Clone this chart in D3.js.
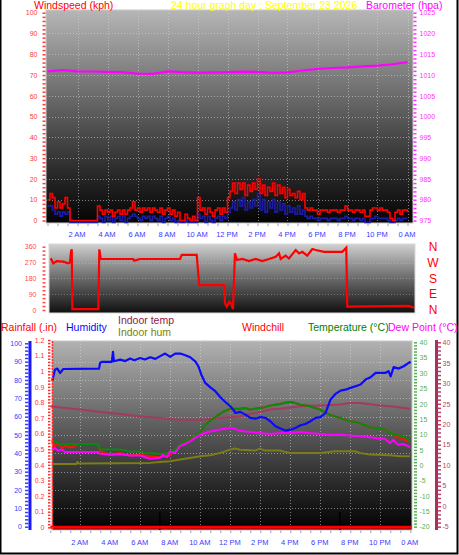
<!DOCTYPE html>
<html><head><meta charset="utf-8">
<script src="https://cdn.jsdelivr.net/npm/d3@7"></script>
<style>body{margin:0;background:#fff;} svg{display:block;}</style>
</head><body><svg id="c" width="459" height="555"></svg>
<script>
// ---------- DATA ----------
const hourTicks = [2,4,6,8,10,12,14,16,18,20,22,24];
const hourLabels = ["2 AM","4 AM","6 AM","8 AM","10 AM","12 PM","2 PM","4 PM","6 PM","8 PM","10 PM","0 AM"];
const dirLabels = ["N","W","S","E","N"];
const dirLabelDeg = [360,270,180,90,0];

// wind speed (kph), one sample every 10 minutes from 0:00
const windGust = [10,13,11,6,9,6,8,11,6,0, 0,0,0,0,0,0,0,0,0,0,
  7,5,3,5,4,5,2,4,5,3, 5,3,5,6,9,5,6,4,6,5, 6,4,6,5,4,6,3,5,6,3,
  5,2,4,0,0,3,1,0,2,0, 11,5,6,3,6,4,2,5,6,3, 6,4,11,14,18,13,18,15,18,12,
  17,14,18,15,20,13,17,12,16,14, 18,12,17,13,16,11,15,12,13,11,
  14,10,13,6,5,6,5,5,3,5, 5,5,4,5,5,5,4,5,5,7, 5,5,4,5,5,4,5,2,2,5,
  6,6,5,6,5,5,4,1,0,4, 5,3,5,5,4];
const windAvg = [8,8,6,4,5,3,5,4,5,0, 0,0,0,0,0,0,0,0,0,0,
  3,2,0,3,1,3,0,2,3,1, 3,0,2,3,4,3,2,1,3,2, 3,1,3,2,1,3,0,2,3,1,
  2,0,1,0,0,1,0,0,0,0, 4,2,3,0,3,1,0,2,3,1, 3,2,5,7,10,6,11,8,12,6,
  10,7,11,8,14,6,11,5,10,7, 11,5,10,6,9,4,8,5,7,4,
  8,4,6,3,2,3,2,2,1,2, 2,2,1,2,2,2,1,2,2,3, 2,2,1,2,2,1,2,0,0,2,
  2,3,2,2,2,2,1,0,0,1, 2,1,2,2,2];
// barometer (hpa), hourly
const baroVals = [1010.9,1011.2,1010.9,1010.85,1010.75,1010.7,1010.35,1010.3,1010.9,1010.7,
  1010.6,1010.65,1010.7,1010.8,1010.75,1010.55,1010.65,1011.1,1011.5,1011.7,
  1011.85,1012.1,1012.25,1012.6,1013.1];
// wind direction (degrees)
const dirHours = [0.05,0.22,0.45,0.87,1.22,1.33,1.40,1.45,1.49,3.22,3.29,3.38,5.55,5.6,5.8,6.0,8.67,8.78,9.78,9.95,
  11.6,11.67,11.78,11.95,12.07,12.2,12.33,12.47,12.82,13.27,13.71,14.15,14.6,15.05,15.27,15.38,15.71,15.93,
  16.38,16.6,16.82,17.15,17.49,17.71,18.27,19.49,19.75,19.82,23.93,24.27];
const dirVals = [294,265,278,275,265,270,331,345,5,5,345,290,290,280,285,290,290,313,313,142,
  142,38,19,47,38,5,322,284,290,278,290,278,290,303,322,290,309,293,
  341,322,331,309,347,341,331,331,354,19,23,13];

// lower panel
const humHours = [0.13,0.31,0.47,0.65,0.87,3.25,3.32,3.43,4.10,4.18,4.24,4.66,5.0,5.32,5.6,5.99,6.3,6.66,7.0,7.33,7.66,7.99,8.33,8.66,9.0,9.33,9.66,9.87,10.07,10.33,10.67,11.0,11.34,11.67,12.0,12.2,12.34,12.67,13.01,13.34,13.67,14.01,14.34,14.67,15.01,15.34,15.67,16.01,16.34,16.68,17.01,17.34,17.68,18.01,18.35,18.68,19.01,19.35,19.68,20.01,20.35,20.68,21.02,21.35,21.69,22.02,22.35,22.55,22.69,22.89,23.23,23.56,23.89,24.02];
const humVals = [79.6,85.6,86.2,83.8,86,86.2,89.3,89.9,89.9,95.3,90.2,91.1,90.3,91.7,90.8,92,91.2,92.4,91.5,93,94.4,92.6,94.4,94.4,93.5,92.4,90.2,87.5,82.9,78.4,76,73.9,70.6,68,65.7,63.8,62,62.6,61.1,59.3,58.9,59.8,59.3,57.5,54.8,53.5,52.4,52.9,53.8,55.3,56,57.5,59.3,59.7,62,69.3,72.4,74.2,74.7,75.7,76.6,77.5,80.2,81.5,83.9,83.9,83.9,84.8,82,87,86.2,87.5,89.3,89.9];
const inTempHours = [0,0.65,1.98,3.31,4.65,5.98,7.31,8.65,9.98,11.31,12.31,12.65,13.31,13.98,14.65,15.31,15.98,16.65,17.98,19.31,19.98,20.65,21.31,21.98,22.65,23.31,23.98];
const inTempVals = [24.4,24.1,23.6,23.0,22.5,21.9,21.5,21.1,21.1,21.5,21.8,21.9,22.5,23.0,23.6,23.8,24.1,24.4,24.6,24.8,25.2,25.2,24.9,24.6,24.4,24.1,23.7];
const inHumHours = [0.11,1.75,1.8,1.9,6.65,7.31,7.98,8.65,9.31,9.98,10.65,11.31,11.98,12.31,12.65,13.65,13.98,14.31,15.31,15.65,15.98,17.98,18.98,20.31,20.65,21.31,22.65,23.31,23.98];
const inHumVals = [34.2,34.2,35.3,34.4,34.8,35.3,35.7,36.6,37.5,38.4,38.9,40.2,42.0,42.6,42,41.5,42.6,41.5,41.5,40.8,40.2,40.2,41.1,41.1,40.2,39.3,38.9,38.4,38.4];
const tempHours = [0.11,0.31,0.65,3.18,3.32,4.65,5.31,5.98,6.31,7.31,7.98,8.31,8.65,8.98,9.31,9.65,9.98,10.31,10.65,10.98,11.31,11.65,11.98,12.31,12.65,12.98,13.31,13.65,13.98,14.31,14.65,14.98,15.31,15.65,15.98,16.31,16.65,16.98,17.31,17.65,17.98,18.31,18.65,18.98,19.31,19.65,19.98,20.31,20.65,20.98,21.31,21.65,21.98,22.31,22.65,22.98,23.31,23.65,23.98];
const tempVals = [8.3,7.8,6.9,6.9,5.1,5.1,4.5,4.5,4.0,3.7,4.0,5.1,6.7,7.8,8.9,9.4,10.8,13.0,14.5,15.6,16.7,17.7,18.4,18.4,18.4,18.6,18.1,18.4,18.6,18.9,19.4,19.7,19.9,20.3,20.6,20.3,19.7,19.5,19.2,18.6,18.1,17.3,16.4,15.9,15.4,14.8,14.3,14.1,13.7,13.0,12.3,12.1,11.9,11.6,10.5,9.9,9.7,9.1,8.0];
const chillHours = [0.11,0.31,0.5,0.78,1.05,1.31,1.65,1.9,3.18,3.32,3.98,4.65,5.31,5.98,6.65,7.31,7.98,8.31,8.65,8.98,9.31,9.65,9.98,10.31,10.65,10.98,11.31,11.65,11.98,12.31,12.65,12.98,13.31,13.65,13.98,14.31,14.65,14.98,15.31,15.65,15.98,16.31,16.65,16.98,17.31,17.65,17.98,18.31,18.65,18.98,19.31,19.65,19.98,20.31,20.65,20.98,21.31,21.65,21.98,22.31,22.65,22.98,23.31,23.65,23.98];
const chillVals = [7.8,6.2,7.2,5.6,6.5,5.8,6.2,6.9,6.9,4.5,3.4,4.0,3.2,3.4,2.9,2.6,3.2,4.8,6.7,7.8,8.9,9.4,10.8,13.0,14.5,15.6,16.7,17.7,18.2,18.2,18.3,18.6,18.1,18.4,18.6,18.9,19.4,19.7,19.9,20.3,20.6,20.3,19.7,19.5,19.2,18.6,18.1,17.3,16.4,15.9,15.4,14.8,14.3,14.1,13.7,13.0,12.3,12.1,11.9,11.6,10.5,9.6,8.9,8.3,7.6];
const dewHours = [0.11,0.31,0.51,0.78,0.98,3.18,3.32,3.98,4.65,5.31,5.98,6.31,6.65,7.31,7.51,7.78,7.98,8.31,8.65,8.98,9.31,9.65,9.98,10.31,10.65,10.98,11.31,11.65,11.98,12.31,12.65,13.31,13.98,14.65,15.31,15.98,16.65,17.31,17.98,18.65,19.31,19.98,20.65,21.31,21.98,22.31,22.65,22.85,23.18,23.51,23.85,23.98];
const dewVals = [5.1,5.6,4.7,5.1,4.3,4.3,3.7,3.4,3.6,3.2,3.2,2.6,2.1,2.4,3.4,2.6,4.5,4.0,6.2,6.9,7.8,8.9,9.9,10.5,11.0,11.2,11.6,11.9,12.1,11.9,11.2,10.8,10.5,10.2,10.5,10.5,10.8,10.5,10.2,9.9,9.9,9.7,9.4,9.1,8.6,8.6,7.2,8.3,6.7,6.9,6.2,5.8];
const rainHours = [0,4,8,12,16,20,24.05];
const rainVals = [0,0,0,0,0,0,0];
const sunMarks = [7.3,19.3];

// ---------- DRAWING ----------
const FONT = "'Liberation Sans', Arial, sans-serif";
const svg = d3.select("#c").attr("font-family", FONT);
const defs = svg.append("defs");
function grad(id, stops){
  const g = defs.append("linearGradient").attr("id", id).attr("x1",0).attr("y1",0).attr("x2",0).attr("y2",1);
  stops.forEach(s => g.append("stop").attr("offset", s[0]).attr("stop-color", s[1]));
}
grad("g1", [[0,"#b6b6b6"],[0.45,"#626262"],[0.75,"#2c2c2c"],[1,"#030303"]]);
grad("g2", [[0,"#d0d0d0"],[0.5,"#6a6a6a"],[1,"#101010"]]);
grad("g3", [[0,"#b2b2b2"],[0.45,"#5e5e5e"],[0.75,"#2a2a2a"],[1,"#020202"]]);

// outer frame
svg.append("path").attr("d","M0.5,0 V553.5 H457.5 V0").attr("fill","none").attr("stroke","#000").attr("stroke-width",2);

function styleAxis(g, color, size){
  g.attr("font-family", FONT);
  g.select(".domain").remove();
  g.selectAll(".tick line").attr("stroke", color).attr("stroke-width", 1.5);
  g.selectAll(".tick text").attr("fill", color).attr("font-size", size);
}
function grid(g, x, y, xs, ys, x0, x1, y0, y1){
  g.selectAll(null).data(xs).join("line")
    .attr("x1", d=>Math.round(x(d))+0.5).attr("x2", d=>Math.round(x(d))+0.5).attr("y1", y0).attr("y2", y1)
    .attr("stroke","#d8d8d8").attr("stroke-opacity",0.55).attr("stroke-dasharray","1,2");
  g.selectAll(null).data(ys).join("line")
    .attr("y1", d=>Math.round(y(d))+0.5).attr("y2", d=>Math.round(y(d))+0.5).attr("x1", x0).attr("x2", x1)
    .attr("stroke","#d8d8d8").attr("stroke-opacity",0.55).attr("stroke-dasharray","1,2");
}
function xAxes(x, tickY, labelY){
  const t = svg.append("g").attr("transform",`translate(0,${tickY})`)
    .call(d3.axisBottom(x).tickValues(d3.range(0, 24.01, 2/3)).tickFormat("").tickSize(2.5));
  t.select(".domain").remove();
  t.selectAll(".tick line").attr("stroke","#9a9ac8");
  const l = svg.append("g").attr("transform",`translate(-1,${labelY})`)
    .call(d3.axisBottom(x).tickValues(hourTicks).tickFormat((d,i)=>hourLabels[i]).tickSize(0).tickPadding(0));
  l.select(".domain").remove();
  l.attr("font-family", FONT);
  l.selectAll("text").attr("fill","#3a3aff").attr("font-size",7.5);
}

// ===== Panel 1: wind speed + barometer =====
const x1 = d3.scaleLinear().domain([0,24]).range([47.5,407.5]);
const yW = d3.scaleLinear().domain([0,100]).range([220.5,12.7]);
const yB = d3.scaleLinear().domain([975,1025]).range([220.5,12.7]);
svg.append("rect").attr("x",46).attr("y",10).attr("width",367).attr("height",213).attr("fill","url(#g1)")
  .attr("stroke","#c8c8c8").attr("stroke-width",1);
grid(svg.append("g"), x1, yW, [2,4,6,8,10,12,14,16,18,20,22,24], d3.range(10,100,10), 46, 413, 10, 223);

const windT = windGust.map((d,i)=>i/6);
const lineStep = d3.line().curve(d3.curveStepAfter);
svg.append("path").attr("transform","translate(0,2)")
  .attr("d", lineStep(windAvg.map((v,i)=>[x1(windT[i]), yW(v)])))
  .attr("fill","none").attr("stroke","#1c1ca8").attr("stroke-width",1.6);
svg.append("path")
  .attr("d", lineStep(windGust.map((v,i)=>[x1(windT[i]), yW(v)])))
  .attr("fill","none").attr("stroke","#ff0000").attr("stroke-width",1.6);
svg.append("path")
  .attr("d", d3.line()(baroVals.map((v,i)=>[x1(i), yB(v)])))
  .attr("fill","none").attr("stroke","#ff00ff").attr("stroke-width",2.2);

styleAxis(svg.append("g").attr("transform","translate(45.5,0)")
  .call(d3.axisLeft(yW).tickValues(d3.range(0,101,2)).tickFormat(d=>d%10===0?d:"").tickSize(3).tickPadding(5)), "#ff3a3a", 7);
styleAxis(svg.append("g").attr("transform","translate(413.5,0)")
  .call(d3.axisRight(yB).tickValues(d3.range(975,1025.1,1)).tickFormat(d=>d%5===0?d:"").tickSize(3).tickPadding(3)), "#ff30ff", 7);
xAxes(x1, 223.5, 232);

svg.append("text").attr("x",34).attr("y",8.5).attr("font-size",10.5).attr("fill","#ff0000").text("Windspeed (kph)");
svg.append("text").attr("x",171).attr("y",8.5).attr("font-size",10.5).attr("fill","#ffff00").text("24 hour graph day : September 23 2026");
svg.append("text").attr("x",366).attr("y",8.5).attr("font-size",10.5).attr("fill","#ff00ff").text("Barometer (hpa)");

// ===== Panel 2: wind direction =====
const x2 = d3.scaleLinear().domain([0,24]).range([50,410]);
const yD = d3.scaleLinear().domain([0,360]).range([310,246.7]);
svg.append("rect").attr("x",49).attr("y",244).attr("width",366).attr("height",69).attr("fill","url(#g2)")
  .attr("stroke","#d8d8d8").attr("stroke-width",1);
svg.append("g").selectAll("line").data([90,180,270]).join("line")
  .attr("x1",49).attr("x2",415).attr("y1",d=>Math.round(yD(d))+0.5).attr("y2",d=>Math.round(yD(d))+0.5)
  .attr("stroke","#d8d8d8").attr("stroke-opacity",0.35).attr("stroke-dasharray","1,2");
svg.append("path")
  .attr("d", d3.line()(dirVals.map((v,i)=>[x2(dirHours[i]), yD(v)])))
  .attr("fill","none").attr("stroke","#ff0000").attr("stroke-width",2.2);
styleAxis(svg.append("g").attr("transform","translate(45.5,0)")
  .call(d3.axisLeft(yD).tickValues(d3.range(0,361,22.5)).tickFormat(d=>d%90===0?d:"").tickSize(3).tickPadding(6)), "#ff4a4a", 7);
svg.append("g").selectAll("text").data(dirLabels).join("text")
  .attr("x",433).attr("y",(d,i)=>yD(dirLabelDeg[i])).attr("dy","0.36em").attr("text-anchor","middle")
  .attr("font-size",12).attr("fill","#ff0000").text(d=>d);

// ===== Panel 3 =====
const x3 = d3.scaleLinear().domain([0,24]).range([50.3,410.3]);
const yH = d3.scaleLinear().domain([0,100]).range([526.7,343.3]);
const yR = d3.scaleLinear().domain([0,1.2]).range([527.3,340]);
const yT = d3.scaleLinear().domain([-20,40]).range([526.7,342.3]);
const yI = d3.scaleLinear().domain([-5,40]).range([526.7,342.3]);
svg.append("rect").attr("x",52).attr("y",341).attr("width",360).attr("height",189).attr("fill","url(#g3)")
  .attr("stroke","#c8c8c8").attr("stroke-width",1);
grid(svg.append("g"), x3, yH, [2,4,6,8,10,12,14,16,18,20,22], d3.range(10,100,10), 52, 412, 341, 530);

svg.append("g").selectAll("line").data(sunMarks).join("line")
  .attr("x1",d=>x3(d)).attr("x2",d=>x3(d)).attr("y1",512).attr("y2",530)
  .attr("stroke","#000").attr("stroke-width",1.5);

const ln = d3.line();
function series(hours, vals, y, color, w){
  svg.append("path").attr("d", ln(vals.map((v,i)=>[x3(hours[i]), y(v)])))
    .attr("fill","none").attr("stroke",color).attr("stroke-width",w).attr("stroke-linejoin","round");
}
series(inHumHours, inHumVals, yH, "#7c7c18", 2);
series(inTempHours, inTempVals, yI, "#a33a62", 2);
series(chillHours, chillVals, yT, "#ff1010", 2);
series(tempHours, tempVals, yT, "#0a8a0a", 2);
series(dewHours, dewVals, yT, "#ff00ff", 2);
series(humHours, humVals, yH, "#0a0aff", 2.2);
series(rainHours, rainVals, yR, "#ff0000", 3);

// left axes
svg.append("line").attr("x1",30).attr("x2",30).attr("y1",341).attr("y2",530).attr("stroke","#1a1aff").attr("stroke-width",3);
styleAxis(svg.append("g").attr("transform","translate(28.5,0)")
  .call(d3.axisLeft(yH).tickValues(d3.range(0,101,2)).tickFormat(d=>d%10===0?d:"").tickSize(3.5).tickPadding(3)), "#3a3aff", 7);
styleAxis(svg.append("g").attr("transform","translate(50.5,0)")
  .call(d3.axisLeft(yR).tickValues(d3.range(0,1.201,0.02)).tickFormat(d=>Math.abs(d*10-Math.round(d*10))<1e-6?d3.format("~g")(Math.round(d*10)/10):"").tickSize(2.5).tickPadding(3.5)), "#ff3030", 7);
svg.append("line").attr("x1",52.5).attr("x2",52.5).attr("y1",341).attr("y2",530).attr("stroke","#ff3030").attr("stroke-width",1.5).attr("stroke-dasharray","2,1");
// right axes
styleAxis(svg.append("g").attr("transform","translate(414,0)")
  .call(d3.axisRight(yT).tickValues(d3.range(-20,40.1,1)).tickFormat(d=>d%5===0?d:"").tickSize(3).tickPadding(2.5)), "#55b055", 7);
svg.append("line").attr("x1",436.5).attr("x2",436.5).attr("y1",340).attr("y2",530).attr("stroke","#a8305a").attr("stroke-width",3);
styleAxis(svg.append("g").attr("transform","translate(437.5,0)")
  .call(d3.axisRight(yI).tickValues(d3.range(-5,40.1,1)).tickFormat(d=>d%5===0?d:"").tickSize(3.5).tickPadding(1.5)), "#b8406a", 7);
xAxes(x3, 530.5, 539.3);

// titles
const t3 = [
  ["Rainfall (.in)",1,331,"#ff0000"],["Humidity",66,331,"#0a0aff"],["Indoor temp",118,324,"#8e1a48"],
  ["Indoor hum",118,335.7,"#808000"],["Windchill",242,331,"#ff0000"],["Temperature (°C)",308,331,"#008000"],
  ["Dew Point (°C)",388,331,"#ff00ff"]];
svg.append("g").selectAll("text").data(t3).join("text")
  .attr("x",d=>d[1]).attr("y",d=>d[2]).attr("font-size",10.5).attr("fill",d=>d[3]).text(d=>d[0]);
</script></body></html>
